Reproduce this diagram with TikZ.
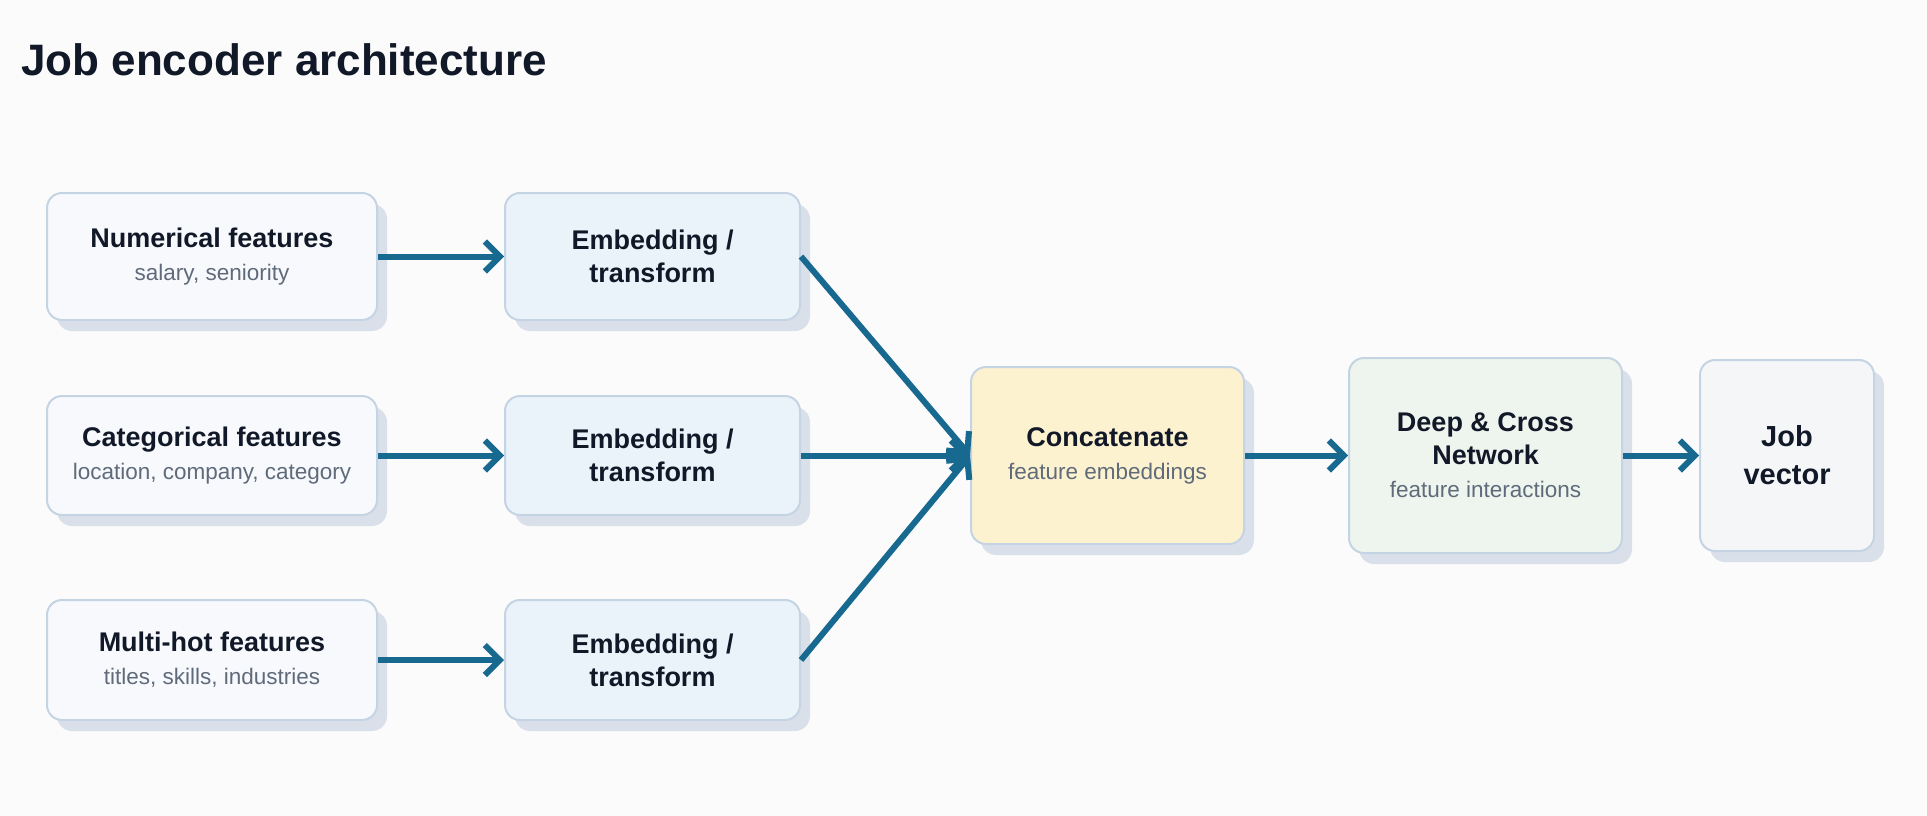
\documentclass[tikz,border=0pt]{standalone}
\usepackage{fontspec}
\setmainfont{Liberation Sans}
\usetikzlibrary{arrows.meta,shadows}
\definecolor{bgc}{HTML}{FBFBFC}
\definecolor{arrowc}{HTML}{17698F}
\definecolor{borderc}{HTML}{C5D4E3}
\definecolor{shadowc}{HTML}{DAE0EA}
\definecolor{textc}{HTML}{111827}
\definecolor{subc}{HTML}{5F6B7A}
\definecolor{inputfill}{HTML}{F7F9FD}
\definecolor{embfill}{HTML}{EAF2FA}
\definecolor{catfill}{HTML}{FDF2D0}
\definecolor{deepfill}{HTML}{EEF5EE}
\definecolor{jobfill}{HTML}{F5F6F8}
\newcommand\ttl[1]{{\bfseries\color{textc}#1}}
\newcommand\sbt[1]{{\fontsize{22.5}{33}\selectfont\color{subc}#1}}
\tikzset{
  jbox/.style={draw=borderc, line width=2pt, rounded corners=15pt, align=center,
    inner sep=0pt, font=\fontsize{27}{33}\selectfont,
    drop shadow={shadow xshift=10pt, shadow yshift=-11pt, fill=shadowc, opacity=1}},
  inbox/.style={jbox, fill=inputfill, minimum width=330pt},
  embbox/.style={jbox, fill=embfill, minimum width=295pt},
  arr/.style={draw=arrowc, line width=6pt, -{Straight Barb[length=15pt,width=30pt]}}
}
\begin{document}
\begin{tikzpicture}[x=1pt,y=-1pt]
\fill[bgc] (0,0) rectangle (1927,816);
\useasboundingbox (0,0) rectangle (1927,816);

\node[anchor=base west, font=\fontsize{44}{50}\selectfont\bfseries, text=textc, inner sep=0pt] (title) at (21,75) {Job encoder architecture};

\node[inbox, minimum height=127pt] (num) at (212,256.5) {\ttl{Numerical features}\\\sbt{salary, seniority}};
\node[embbox, minimum height=127pt] (emb1) at (652.5,256.5) {\ttl{Embedding /}\\\ttl{transform}};

\node[inbox, minimum height=119pt] (cat) at (212,455.5) {\ttl{Categorical features}\\\sbt{location, company, category}};
\node[embbox, minimum height=119pt] (emb2) at (652.5,455.5) {\ttl{Embedding /}\\\ttl{transform}};

\node[inbox, minimum height=120pt] (multi) at (212,660) {\ttl{Multi-hot features}\\\sbt{titles, skills, industries}};
\node[embbox, minimum height=120pt] (emb3) at (652.5,660) {\ttl{Embedding /}\\\ttl{transform}};

\node[jbox, fill=catfill, minimum width=273pt, minimum height=177pt] (concat) at (1107.5,455.5) {\ttl{Concatenate}\\\sbt{feature embeddings}};
\node[jbox, fill=deepfill, minimum width=273pt, minimum height=195pt] (deep) at (1485.5,455.5) {\ttl{Deep \& Cross}\\\ttl{Network}\\\sbt{feature interactions}};
\node[jbox, fill=jobfill, minimum width=174pt, minimum height=191pt, font=\fontsize{29}{38}\selectfont] (job) at (1787,455.5) {\ttl{Job}\\\ttl{vector}};

\draw[arr] (num.east) -- (emb1.west);
\draw[arr] (cat.east) -- (emb2.west);
\draw[arr] (multi.east) -- (emb3.west);
\draw[arr] (emb1.east) -- (concat.west);
\draw[arr] (emb2.east) -- (concat.west);
\draw[arr] (emb3.east) -- (concat.west);
\draw[arr] (concat.east) -- (deep.west);
\draw[arr] (deep.east) -- (job.west);
\end{tikzpicture}
\end{document}
